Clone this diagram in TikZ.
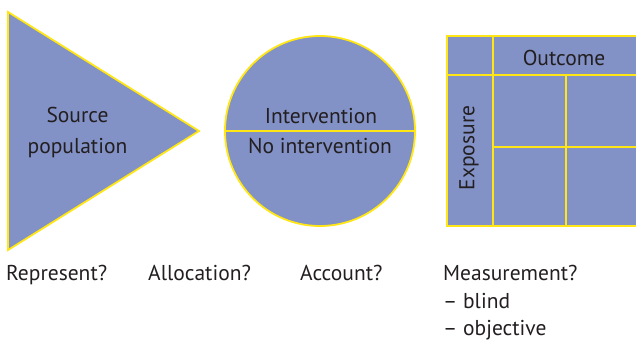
\documentclass[tikz,border=0pt]{standalone}
\usepackage{fontspec}
\setmainfont{PT Sans}
\definecolor{fillblue}{RGB}{130,145,198}
\definecolor{lineyellow}{RGB}{255,230,20}
\definecolor{txt}{RGB}{35,31,32}
\begin{document}
\begin{tikzpicture}[x=1pt,y=1pt,
  shapebox/.style={fill=fillblue, draw=lineyellow, line width=1.8pt, line join=miter},
  divline/.style={draw=lineyellow, line width=1.4pt},
  lbl/.style={text=txt, font=\fontsize{21.5}{26}\selectfont, inner sep=0pt},
]
\useasboundingbox (0,0) rectangle (636,-343);
\clip (0,0) rectangle (636,-343);
% triangle
\draw[shapebox] (8,-12) -- (8,-250) -- (199,-131) -- cycle;
\node[lbl, anchor=base] (src1) at (77.5,-122) {Source};
\node[lbl, anchor=base] (src2) at (77.5,-153) {population};
% circle
\draw[shapebox] (320,-131) circle (95);
\draw[divline] (225,-131) -- (415,-131);
\node[lbl, anchor=base] (int) at (321,-123) {Intervention};
\node[lbl, anchor=base] (noint) at (320,-153) {No intervention};
% table
\draw[shapebox] (447,-36) rectangle (642,-226);
\draw[divline] (493,-36) -- (493,-226);
\draw[divline] (447,-75) -- (642,-75);
\draw[divline] (566,-75) -- (566,-226);
\draw[divline] (493,-147) -- (642,-147);
\node[lbl, anchor=base] (out) at (564,-65) {Outcome};
\node[lbl, rotate=90] (exp) at (469,-148) {Exposure};
% bottom labels
\node[lbl, anchor=base west] (rep) at (6,-280) {Represent?};
\node[lbl, anchor=base west] (alloc) at (148,-280) {Allocation?};
\node[lbl, anchor=base west] (acc) at (300,-280) {Account?};
\node[lbl, anchor=base west] (meas) at (443,-280) {Measurement?};
\node[lbl, anchor=base west] (blind) at (443,-308) {– blind};
\node[lbl, anchor=base west] (obj) at (443,-335) {– objective};
\end{tikzpicture}
\end{document}
